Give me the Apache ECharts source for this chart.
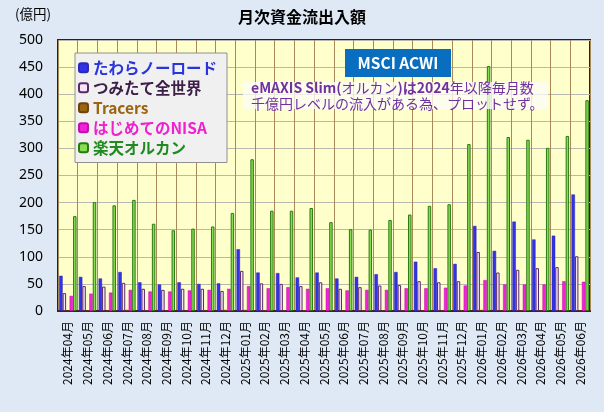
<!DOCTYPE html>
<html><head><meta charset="utf-8">
<script src="https://cdn.jsdelivr.net/npm/echarts@6/dist/echarts.min.js"></script>
<style>html,body{margin:0;padding:0;background:#dfe9f5}#c{width:604px;height:412px}</style>
</head><body><div id="c"></div>
<script>
const categories = ['2024年04月','2024年05月','2024年06月','2024年07月','2024年08月','2024年09月','2024年10月','2024年11月','2024年12月','2025年01月','2025年02月','2025年03月','2025年04月','2025年05月','2025年06月','2025年07月','2025年08月','2025年09月','2025年10月','2025年11月','2025年12月','2026年01月','2026年02月','2026年03月','2026年04月','2026年05月','2026年06月'];
const tawara   = [65,63,60,72,53,49,53,50,51,114,71,70,62,71,60,63,68,72,91,79,87,157,111,165,132,139,215];
const tsumitate= [33,46,45,52,41,39,41,41,37,74,51,50,46,53,41,44,47,48,55,53,55,109,71,76,79,81,101];
const tracers  = [1,1,1,2,1,1,1,1,2,2,1,1,1,1,1,1,1,1,1,1,1,2,1,1,1,1,1];
const hajimete = [28,32,34,39,36,36,38,39,41,46,42,44,41,42,38,39,39,42,42,43,47,57,49,49,49,55,54];
const rakuten  = [175,201,195,205,161,149,152,156,181,280,185,185,190,164,151,150,168,178,194,197,308,452,321,316,301,323,389];
const yTicks = [0,50,100,150,200,250,300,350,400,450,500];

const F = '"Noto Sans CJK JP","Noto Sans",sans-serif';
const chart = echarts.init(document.getElementById('c'));
function mk(name, data, fill, border, bw){
  return {name, type:'bar', data, barGap:'0%', barCategoryGap:'12%',
    itemStyle:{color:fill, borderColor:border, borderWidth:bw}};
}
chart.setOption({
  backgroundColor:'#dfe9f5',
  animation:false,
  title:{text:'月次資金流出入額', left:'center', top:4, textStyle:{fontFamily:F, fontSize:16, fontWeight:'bold', color:'#000'}},
  grid:{left:58, right:14, top:40, bottom:101, show:true, backgroundColor:'#ffffcc', borderColor:'#1c1c64', borderWidth:2},
  legend:{orient:'vertical', left:75, top:53, width:148, padding:[7,10,7,3], itemGap:4.5, itemWidth:9, itemHeight:9,
    backgroundColor:'#f0f0f0', borderColor:'#909090', borderWidth:1,
    textStyle:{fontFamily:F, fontSize:15.5, fontWeight:'bold'},
    data:[
      {name:'たわらノーロード', textStyle:{color:'#2a35dc'}},
      {name:'つみたて全世界', textStyle:{color:'#3c1f46'}},
      {name:'Tracers', textStyle:{color:'#9a6410'}},
      {name:'はじめてのNISA', textStyle:{color:'#f020d0'}},
      {name:'楽天オルカン', textStyle:{color:'#1f8a1f'}}
    ]},
  xAxis:{type:'category', data:categories,
    axisLine:{show:true, lineStyle:{color:'#4a1c2c', width:2}},
    axisTick:{show:false},
    splitLine:{show:true, lineStyle:{color:'#a88a5a', width:1}},
    axisLabel:{rotate:90, fontFamily:F, fontSize:12, color:'#000', margin:10, interval:0}},
  yAxis:{type:'value', min:0, max:500, interval:50,
    axisLine:{show:false}, axisTick:{show:false},
    splitLine:{lineStyle:{color:'#b8b8b0', width:1}},
    axisLabel:{fontFamily:'"Noto Sans",sans-serif', fontSize:14, color:'#000', margin:15,
      formatter:v=>yTicks.includes(v)?String(v):''}},
  series:[
    mk('たわらノーロード', tawara, '#3232e6', '#2a2ab0', 0.5),
    mk('つみたて全世界', tsumitate, '#f6e4fa', '#5a2a66', 1),
    mk('Tracers', tracers, '#9a6410', '#6a4408', 0.5),
    mk('はじめてのNISA', hajimete, '#f023d6', '#c010b0', 0.5),
    mk('楽天オルカン', rakuten, '#86de52', '#2a7a12', 1)
  ],
  graphic:[
    {type:'text', left:15, top:7, z:100, style:{text:'(億円)', font:'13.5px '+F, fill:'#000'}},
    {type:'rect', z:100, shape:{x:345, y:49, width:106, height:28}, style:{fill:'#0a6ec0'}},
    {type:'text', z:101, x:398, y:63, style:{text:'MSCI ACWI', font:'bold 15.5px '+F, fill:'#fff', align:'center', verticalAlign:'middle'}},
    {type:'rect', z:100, shape:{x:243, y:82, width:305, height:27}, style:{fill:'rgba(252,252,246,0.78)'}},
    {type:'text', z:101, x:251, y:95.5, style:{
      text:'{b|eMAXIS Slim(}{n|オルカン}{b|)は2024}{n|年以降毎月数}\n{n|千億円レベルの流入がある為、プロットせず。}',
      rich:{b:{font:'bold 14px '+F, fill:'#7030a0', lineHeight:16}, n:{font:'14px '+F, fill:'#7030a0', lineHeight:16}},
      fill:'#7030a0', verticalAlign:'middle'}}
  ]
});
</script></body></html>
